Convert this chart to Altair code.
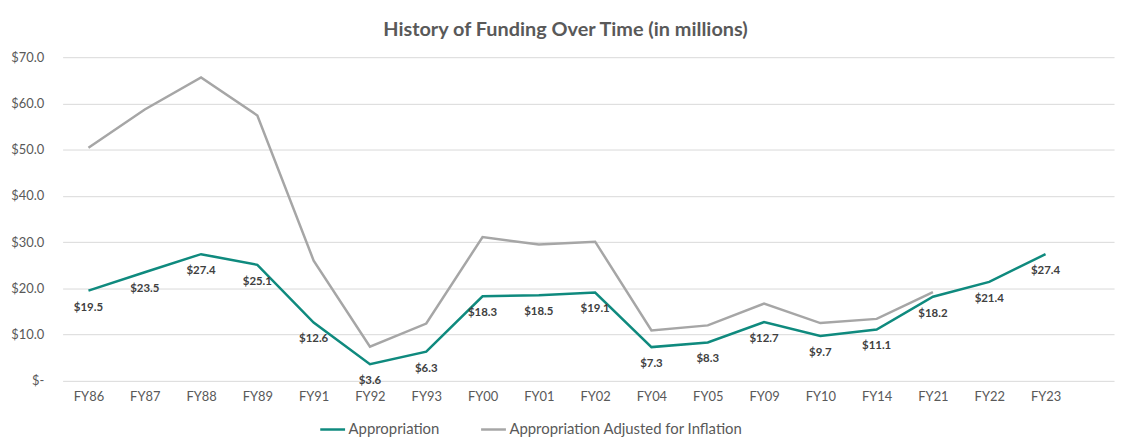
import altair as alt
import pandas as pd

categories = ["FY86", "FY87", "FY88", "FY89", "FY91", "FY92", "FY93", "FY00", "FY01",
              "FY02", "FY04", "FY05", "FY09", "FY10", "FY14", "FY21", "FY22", "FY23"]
appropriation = [19.5, 23.5, 27.4, 25.1, 12.6, 3.6, 6.3, 18.3, 18.5,
                 19.1, 7.3, 8.3, 12.7, 9.7, 11.1, 18.2, 21.4, 27.4]
adjusted = [50.4, 58.7, 65.6, 57.4, 26.0, 7.4, 12.4, 31.1, 29.5,
            30.1, 10.9, 12.0, 16.7, 12.5, 13.4, 19.2, None, None]
series_names = ["Appropriation", "Appropriation Adjusted for Inflation"]
series_colors = ["#0F8A7E", "#A6A6A6"]

rows = []
for c, a, b in zip(categories, appropriation, adjusted):
    rows.append({"year": c, "value": a, "series": series_names[0]})
    if b is not None:
        rows.append({"year": c, "value": b, "series": series_names[1]})
df = pd.DataFrame(rows)

FONT = "Lato"
TXT = "#595959"

x = alt.X("year:N", sort=categories, title=None,
          scale=alt.Scale(type="point", padding=0.838, align=0.274),
          axis=alt.Axis(labelAngle=0, labelFont=FONT, labelFontSize=13, labelColor=TXT,
                        labelPadding=10, ticks=False, domain=False, grid=False))
y = alt.Y("value:Q", title=None,
          scale=alt.Scale(domain=[0, 70]),
          axis=alt.Axis(values=[0, 10, 20, 30, 40, 50, 60, 70],
                        labelExpr="datum.value == 0 ? '$-' : '$' + format(datum.value, '.1f')",
                        labelFont=FONT, labelFontSize=13, labelColor=TXT, labelPadding=19,
                        ticks=False, domain=False, grid=True, gridColor="#D9D9D9", gridWidth=1))
color = alt.Color("series:N",
                  scale=alt.Scale(domain=series_names, range=series_colors),
                  legend=alt.Legend(title=None, orient="none", direction="horizontal",
                                    legendX=258, legendY=361, labelLimit=500,
                                    symbolType="stroke", symbolSize=625, symbolStrokeWidth=2.5,
                                    labelFont=FONT, labelFontSize=15, labelColor=TXT,
                                    columnPadding=36, labelOffset=2))

base = alt.Chart(df)

gray_line = base.transform_filter(alt.datum.series == series_names[1]).mark_line(
    strokeWidth=2.5).encode(x=x, y=y, color=color)
teal_line = base.transform_filter(alt.datum.series == series_names[0]).mark_line(
    strokeWidth=2.5).encode(x=x, y=y, color=color)
labels = base.transform_filter(alt.datum.series == series_names[0]).mark_text(
    dy=17, font=FONT, fontSize=11.5, fontWeight="bold", color="#404040").encode(
    x=x, y=y, text=alt.Text("value:Q", format="$.1f"))

chart = alt.layer(gray_line, teal_line, labels).properties(
    width=1059, height=326,
    title=alt.TitleParams("History of Funding Over Time (in millions)", font=FONT,
                          fontSize=20, fontWeight="bold", color=TXT, dx=-23, offset=11),
    autosize=alt.AutoSizeParams(type="none"),
    padding={"left": 55, "top": 48, "right": 5, "bottom": 55},
).configure_view(stroke=None)

chart.save("out.html", embed_options={"renderer": "svg", "actions": False})
